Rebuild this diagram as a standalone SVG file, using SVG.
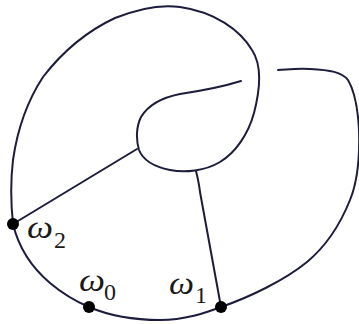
<svg xmlns="http://www.w3.org/2000/svg" width="359" height="324" viewBox="0 0 359 324">
<style>
.e{fill:none;stroke:#1c1c3c;stroke-width:2;stroke-linecap:round;stroke-linejoin:round}
.d{fill:#000}
.w{font-family:"Liberation Serif","DejaVu Serif",serif;font-style:italic;font-size:31px;fill:#1a1a1a}
.s{font-family:"Liberation Serif","DejaVu Serif",serif;font-size:24px;fill:#1a1a1a}
</style>
<rect width="359" height="324" fill="#fff"/>
<g id="connectors">
<path class="e" d="M241,81 C225,86 200,91 180,94 C160,98 147,107 141,117 C136,127 136,140 139,150 C143,160 155,167 170,170 C185,173 205,171 220,162 C235,153 248,135 254,113 C260,90 262,65 252,50 C240,30 215,12 180,7 C160,4 140,8 115,18 C85,32 60,55 43,77 C28,100 18,125 13,160 C10,185 11,205 13,224 C18,245 30,266 50,283 C63,294 75,301 89,307 C110,316 135,320 160,320 C185,320 205,313 221,307 C250,297 285,280 307,262 C325,247 340,225 350,200 C357,183 360,160 359,130 C358,110 355,92 348,80 C342,72 330,70 310,69 C295,68 285,70 278,70"/>
<path class="e" d="M13,224 L137,149"/>
<path class="e" d="M196,171 Q199,183 200,192 L221,307"/>
</g>
<g id="w2">
<circle class="d" cx="13" cy="224" r="6"/>
<text class="w" x="27" y="238" textLength="26" lengthAdjust="spacingAndGlyphs">ω</text>
<text class="s" x="54" y="248">2</text>
</g>
<g id="w0">
<circle class="d" cx="89" cy="307" r="6"/>
<text class="w" x="79" y="291" textLength="26" lengthAdjust="spacingAndGlyphs">ω</text>
<text class="s" x="104" y="300">0</text>
</g>
<g id="w1">
<circle class="d" cx="221" cy="307" r="6"/>
<text class="w" x="169" y="294" textLength="25" lengthAdjust="spacingAndGlyphs">ω</text>
<text class="s" x="195" y="303">1</text>
</g>
</svg>
